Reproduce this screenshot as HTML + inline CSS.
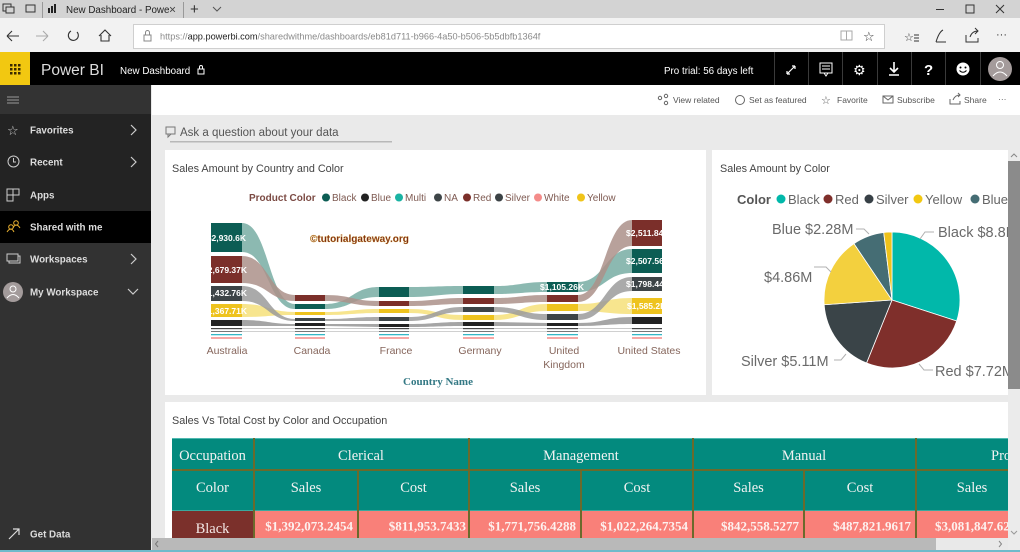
<!DOCTYPE html>
<html><head><meta charset="utf-8"><style>
html,body{margin:0;padding:0;width:1020px;height:552px;overflow:hidden;background:#eaeaea}
svg{display:block}
</style></head><body>
<svg width="1020" height="552" viewBox="0 0 1020 552" xmlns="http://www.w3.org/2000/svg" font-family="Liberation Sans, DejaVu Sans, sans-serif">
<defs>
<clipPath id="sk"><rect x="210" y="150" width="453" height="200"/></clipPath>
<clipPath id="pie"><rect x="712" y="150" width="296" height="245"/></clipPath>
<clipPath id="tb"><rect x="165" y="402" width="843" height="150"/></clipPath>
</defs>

<!-- Browser tab bar -->
<rect x="0" y="0" width="1020" height="18" fill="#d3d3d3"/>
<rect x="3" y="4" width="8" height="7" fill="none" stroke="#333" stroke-width="1"/>
<rect x="6" y="7" width="8" height="6" fill="#d3d3d3" stroke="#333" stroke-width="1"/>
<rect x="26" y="5" width="9" height="7" fill="none" stroke="#333" stroke-width="1"/>
<line x1="42.5" y1="2" x2="42.5" y2="18" stroke="#999"/>
<rect x="48" y="8" width="2" height="5" fill="#222"/><rect x="51" y="6" width="2" height="7" fill="#222"/><rect x="54" y="4" width="2" height="9" fill="#222"/>
<text x="66" y="13" font-size="9.8" fill="#222">New Dashboard - Powe</text>
<text x="169" y="13.5" font-size="12" fill="#444">×</text>
<line x1="183.5" y1="2" x2="183.5" y2="18" stroke="#999"/>
<text x="190" y="14" font-size="15" fill="#333">+</text>
<path d="M213 7 L217 11 L221 7" fill="none" stroke="#555"/>
<line x1="936" y1="9.5" x2="944" y2="9.5" stroke="#333"/>
<rect x="966" y="5" width="8" height="8" fill="none" stroke="#333"/>
<path d="M996 5 L1004 13 M1004 5 L996 13" stroke="#333"/>

<!-- Address bar -->
<rect x="0" y="18" width="1020" height="34" fill="#f2f2f2"/>
<path d="M7 36 H19 M7 36 L12 31 M7 36 L12 41" fill="none" stroke="#333" stroke-width="1.1"/>
<path d="M36 36 H48 M48 36 L43 31 M48 36 L43 41" fill="none" stroke="#aaa" stroke-width="1.1"/>
<path d="M77 32 A5 5 0 1 1 71 31" fill="none" stroke="#333" stroke-width="1.1"/>
<path d="M99 36 L105 30 L111 36 M101 35 V41 H109 V35" fill="none" stroke="#333" stroke-width="1.1"/>
<rect x="133.5" y="24.5" width="751" height="24" fill="#fff" stroke="#cfcfcf"/>
<rect x="144" y="35" width="7" height="6" fill="none" stroke="#888"/>
<path d="M145.5 35 V32.5 A2 2 0 0 1 149.5 32.5 V35" fill="none" stroke="#888"/>
<text x="160" y="39.5" font-size="9.2" fill="#8a8a8a">https://<tspan fill="#222">app.powerbi.com</tspan>/sharedwithme/dashboards/eb81d711-b966-4a50-b506-5b5dbfb1364f</text>
<rect x="841" y="31" width="11" height="9" fill="none" stroke="#aaa"/>
<line x1="846.5" y1="31" x2="846.5" y2="40" stroke="#aaa"/>
<text x="863" y="41" font-size="13" fill="#333" font-family="DejaVu Sans">☆</text>
<text x="904" y="41" font-size="11" fill="#333" font-family="DejaVu Sans">☆</text>
<path d="M914 35 H919 M914 38 H919 M914 41 H919" stroke="#333"/>
<path d="M936 42 Q939 32 943 30 M936 42 H946" fill="none" stroke="#333"/>
<path d="M966 35 V42 H978 V38 M970 37 Q972 31 978 31 M975 28 L978 31 L975 34" fill="none" stroke="#333"/>
<text x="996" y="38" font-size="11" fill="#333">···</text>

<!-- Power BI header -->
<rect x="0" y="52" width="1020" height="33" fill="#000"/>
<rect x="0" y="52" width="30" height="33" fill="#f2c811"/>
<g fill="#3a2a00">
<rect x="10" y="64" width="2.5" height="2.5"/><rect x="14" y="64" width="2.5" height="2.5"/><rect x="18" y="64" width="2.5" height="2.5"/>
<rect x="10" y="68" width="2.5" height="2.5"/><rect x="14" y="68" width="2.5" height="2.5"/><rect x="18" y="68" width="2.5" height="2.5"/>
<rect x="10" y="72" width="2.5" height="2.5"/><rect x="14" y="72" width="2.5" height="2.5"/><rect x="18" y="72" width="2.5" height="2.5"/>
</g>
<text x="41" y="75" font-size="15.5" fill="#dcdcdc">Power BI</text>
<text x="120" y="74" font-size="9.8" fill="#fff">New Dashboard</text>
<rect x="198" y="69" width="6" height="5" fill="none" stroke="#fff" stroke-width="1"/>
<path d="M199.5 69 V67 A1.5 1.5 0 0 1 202.5 67 V69" fill="none" stroke="#fff"/>
<text x="664" y="74" font-size="9.8" fill="#fff">Pro trial: 56 days left</text>
<g stroke="#3a3a3a">
<line x1="774.5" y1="52" x2="774.5" y2="85"/><line x1="808.5" y1="52" x2="808.5" y2="85"/><line x1="842.5" y1="52" x2="842.5" y2="85"/>
<line x1="877.5" y1="52" x2="877.5" y2="85"/><line x1="911.5" y1="52" x2="911.5" y2="85"/><line x1="945.5" y1="52" x2="945.5" y2="85"/><line x1="980.5" y1="52" x2="980.5" y2="85"/>
</g>
<path d="M787 74 L795 66 M787 74 V71 M787 74 H790 M795 66 H792 M795 66 V69" stroke="#fff" fill="none" stroke-width="1.2"/>
<rect x="820" y="63" width="12" height="10" fill="none" stroke="#fff"/>
<path d="M822 66 H830 M822 69 H830 M824 73 L826 76 L828 73" stroke="#fff" fill="none"/>
<text x="853" y="75" font-size="14" fill="#fff" font-family="DejaVu Sans">⚙</text>
<path d="M894 62 V72 M890 68 L894 72 L898 68 M889 75 H899" stroke="#fff" fill="none" stroke-width="1.6"/>
<text x="924" y="75" font-size="15" font-weight="bold" fill="#fff">?</text>
<circle cx="963" cy="69" r="6.5" fill="#fff"/>
<circle cx="960.5" cy="67.5" r="1" fill="#000"/><circle cx="965.5" cy="67.5" r="1" fill="#000"/>
<path d="M959.5 70.5 Q963 74 966.5 70.5" stroke="#000" fill="none"/>
<circle cx="1000" cy="69" r="12" fill="#a49b9b"/>
<circle cx="1000" cy="65" r="3.5" fill="none" stroke="#fff"/>
<path d="M993 76 Q1000 68 1007 76" fill="none" stroke="#fff"/>

<!-- Sidebar -->
<rect x="0" y="85" width="151" height="467" fill="#323232"/>
<rect x="0" y="85" width="151" height="29" fill="#333"/>
<rect x="0" y="114" width="151" height="97" fill="#232323"/>
<rect x="0" y="211" width="151" height="32" fill="#000"/>
<path d="M7 97 H19 M7 100 H19 M7 103 H19" stroke="#9a9a9a"/>
<text x="7" y="135" font-size="13" fill="#ccc" font-family="DejaVu Sans">☆</text>
<text x="30" y="133.5" font-size="9.8" font-weight="bold" fill="#ddd">Favorites</text>
<path d="M131 125 L136 130 L131 135" fill="none" stroke="#ccc" stroke-width="1.2"/>
<circle cx="13.5" cy="161.5" r="5.5" fill="none" stroke="#ccc"/>
<path d="M13.5 158 V162 H16" fill="none" stroke="#ccc"/>
<text x="30" y="165.5" font-size="9.8" font-weight="bold" fill="#ddd">Recent</text>
<path d="M131 157 L136 162 L131 167" fill="none" stroke="#ccc" stroke-width="1.2"/>
<path d="M7 189 H19 V195 H13 V201 H7 Z M7 195 H13 M13 189 V195" fill="none" stroke="#ccc"/>
<text x="30" y="198.5" font-size="9.8" font-weight="bold" fill="#ddd">Apps</text>
<circle cx="11" cy="227" r="2.3" fill="none" stroke="#e8b030"/>
<circle cx="16" cy="223" r="2.3" fill="none" stroke="#e8b030"/>
<path d="M7 232 Q11 226 14 232 M13 228 Q16 222 20 228" fill="none" stroke="#e8b030"/>
<text x="30" y="230.5" font-size="9.8" font-weight="bold" fill="#ddd">Shared with me</text>
<rect x="9" y="256" width="11" height="7" fill="#323232" stroke="#ccc"/>
<rect x="7" y="254" width="11" height="7" fill="#323232" stroke="#ccc"/>
<text x="30" y="262.5" font-size="9.8" font-weight="bold" fill="#ddd">Workspaces</text>
<path d="M131 254 L136 259 L131 264" fill="none" stroke="#ccc" stroke-width="1.2"/>
<circle cx="13" cy="292" r="10" fill="#a39b9b"/>
<circle cx="13" cy="289" r="3" fill="none" stroke="#fff"/>
<path d="M7 298 Q13 291 19 298" fill="none" stroke="#fff"/>
<text x="30" y="295.5" font-size="9.8" font-weight="bold" fill="#ddd">My Workspace</text>
<path d="M128 289 L133 294 L138 289" fill="none" stroke="#ccc" stroke-width="1.2"/>
<path d="M9 539 L19 529 M13 529 H19 V535" fill="none" stroke="#ddd" stroke-width="1.2"/>
<text x="30" y="537.5" font-size="9.8" font-weight="bold" fill="#ddd">Get Data</text>

<!-- Main toolbar -->
<rect x="152" y="85" width="868" height="30" fill="#fff"/>
<g font-size="8.5" fill="#555">
<circle cx="660" cy="98" r="1.7" fill="none" stroke="#666"/><circle cx="666" cy="96" r="1.7" fill="none" stroke="#666"/><circle cx="666" cy="103" r="1.7" fill="none" stroke="#666"/>
<text x="673" y="103">View related</text>
<circle cx="740" cy="100" r="4.5" fill="none" stroke="#666"/>
<text x="749" y="103">Set as featured</text>
<text x="821" y="104" font-size="11" font-family="DejaVu Sans">☆</text>
<text x="837" y="103">Favorite</text>
<rect x="883" y="96" width="10" height="7" fill="none" stroke="#666"/>
<path d="M883 96 L888 100 L893 96" fill="none" stroke="#666"/>
<text x="897" y="103">Subscribe</text>
<path d="M950 99 V104 H960 V101 M953 100 Q955 95 960 95 M958 93 L960 95 L958 97" fill="none" stroke="#666"/>
<text x="964" y="103">Share</text>
<text x="998" y="102">···</text>
</g>

<!-- Q&A -->
<rect x="166" y="127" width="9" height="7" fill="none" stroke="#777"/>
<path d="M168 134 V137 L171 134" fill="none" stroke="#777"/>
<text x="180" y="136" font-size="11.5" fill="#555">Ask a question about your data</text>
<rect x="170" y="141" width="222" height="1.5" fill="#b8b8b8"/>

<!-- Tile 1 -->
<rect x="165" y="150" width="541" height="245" fill="#fff"/>
<text x="172" y="172" font-size="10.8" fill="#444">Sales Amount by Country and Color</text>
<g font-size="10" fill="#7e5a52">
<text x="249" y="201" font-weight="bold" fill="#7b4a43">Product Color</text>
<circle cx="326" cy="197.5" r="4" fill="#0c5d54"/><text x="332" y="201">Black</text>
<circle cx="365" cy="197.5" r="4" fill="#222"/><text x="371" y="201">Blue</text>
<circle cx="399" cy="197.5" r="4" fill="#1ab3a3"/><text x="405" y="201">Multi</text>
<circle cx="438" cy="197.5" r="4" fill="#3e4548"/><text x="444" y="201">NA</text>
<circle cx="467" cy="197.5" r="4" fill="#7b2f2a"/><text x="473" y="201">Red</text>
<circle cx="499" cy="197.5" r="4" fill="#3b4245"/><text x="505" y="201">Silver</text>
<circle cx="538" cy="197.5" r="4" fill="#f48c8a"/><text x="544" y="201">White</text>
<circle cx="581" cy="197.5" r="4" fill="#f0c419"/><text x="587" y="201">Yellow</text>
</g>

<g clip-path="url(#sk)">
<rect x="211" y="328" width="451" height="1" fill="#c9c9c9"/>
<rect x="211" y="331" width="451" height="1" fill="#d0d0d0"/>
<g fill="#f6e07a" fill-opacity="0.85">
<path d="M242,304 C268.5,304 268.5,312 295,312 L295,315 C268.5,315 268.5,317 242,317 Z"/>
<path d="M325,312 C352,312 352,309 379,309 L379,313 C352,313 352,315 325,315 Z"/>
<path d="M409,309 C436,309 436,315 463,315 L463,320 C436,320 436,313 409,313 Z"/>
<path d="M494,315 C520.5,315 520.5,304 547,304 L547,311 C520.5,311 520.5,320 494,320 Z"/>
<path d="M578,304 C605,304 605,298 632,298 L632,314 C605,314 605,311 578,311 Z"/>
</g>
<g fill="#9b9b9b" fill-opacity="0.85">
<path d="M242,286 C268.5,286 268.5,319 295,319 L295,321 C268.5,321 268.5,301 242,301 Z"/>
<path d="M325,319 C352,319 352,317 379,317 L379,321 C352,321 352,321 325,321 Z"/>
<path d="M409,317 C436,317 436,307 463,307 L463,312 C436,312 436,321 409,321 Z"/>
<path d="M494,307 C520.5,307 520.5,314 547,314 L547,320 C520.5,320 520.5,312 494,312 Z"/>
<path d="M578,314 C605,314 605,277 632,277 L632,291 C605,291 605,320 578,320 Z"/>
</g>
<g fill="#8f8f8f" fill-opacity="0.8">
<path d="M242,320 C268.5,320 268.5,324 295,324 L295,326 C268.5,326 268.5,326 242,326 Z"/>
<path d="M325,324 L379,324 L379,327 L325,326 Z"/>
<path d="M409,324 C436,324 436,322 463,322 L463,326 C436,326 436,327 409,327 Z"/>
<path d="M494,322 L547,323 L547,326 L494,326 Z"/>
<path d="M578,323 C605,323 605,317 632,317 L632,324 C605,324 605,326 578,326 Z"/>
</g>
<g fill="#7fb1a9" fill-opacity="0.9">
<path d="M242,223 C268.5,223 268.5,304 295,304 L295,309 C268.5,309 268.5,252 242,252 Z"/>
<path d="M325,304 C352,304 352,287 379,287 L379,297 C352,297 352,309 325,309 Z"/>
<path d="M409,287 C436,287 436,286 463,286 L463,294 C436,294 436,297 409,297 Z"/>
<path d="M494,286 C520.5,286 520.5,282 547,282 L547,292 C520.5,292 520.5,294 494,294 Z"/>
<path d="M578,282 C605,282 605,249 632,249 L632,273 C605,273 605,292 578,292 Z"/>
</g>
<g fill="#ab908a" fill-opacity="0.85">
<path d="M242,256 C268.5,256 268.5,295 295,295 L295,301 C268.5,301 268.5,283 242,283 Z"/>
<path d="M325,295 C352,295 352,301 379,301 L379,306 C352,306 352,301 325,301 Z"/>
<path d="M409,301 C436,301 436,298 463,298 L463,304 C436,304 436,306 409,306 Z"/>
<path d="M494,298 C520.5,298 520.5,295 547,295 L547,302 C520.5,302 520.5,304 494,304 Z"/>
<path d="M578,295 C605,295 605,220 632,220 L632,246 C605,246 605,302 578,302 Z"/>
</g>
<g>
<rect x="211" y="223" width="31" height="29" fill="#0c5d54"/>
<rect x="211" y="256" width="31" height="27" fill="#7b2f2a"/>
<rect x="211" y="286" width="31" height="15" fill="#3d4447"/>
<rect x="211" y="304" width="31" height="13" fill="#eec31e"/>
<rect x="211" y="320" width="31" height="6" fill="#222"/>
<rect x="295" y="295" width="30" height="6" fill="#7b2f2a"/>
<rect x="295" y="304" width="30" height="5" fill="#0c5d54"/>
<rect x="295" y="312" width="30" height="3" fill="#eec31e"/>
<rect x="295" y="318" width="30" height="3" fill="#3d4447"/>
<rect x="295" y="323" width="30" height="3" fill="#222"/>
<rect x="379" y="287" width="30" height="10" fill="#0c5d54"/>
<rect x="379" y="301" width="30" height="5" fill="#7b2f2a"/>
<rect x="379" y="309" width="30" height="4" fill="#eec31e"/>
<rect x="379" y="317" width="30" height="4" fill="#3d4447"/>
<rect x="379" y="324" width="30" height="3" fill="#222"/>
<rect x="463" y="286" width="31" height="8" fill="#0c5d54"/>
<rect x="463" y="298" width="31" height="6" fill="#7b2f2a"/>
<rect x="463" y="307" width="31" height="5" fill="#3d4447"/>
<rect x="463" y="315" width="31" height="5" fill="#eec31e"/>
<rect x="463" y="322" width="31" height="4" fill="#222"/>
<rect x="547" y="282" width="31" height="10" fill="#0c5d54"/>
<rect x="547" y="295" width="31" height="7" fill="#7b2f2a"/>
<rect x="547" y="304" width="31" height="7" fill="#eec31e"/>
<rect x="547" y="314" width="31" height="6" fill="#3d4447"/>
<rect x="547" y="323" width="31" height="3" fill="#222"/>
<rect x="632" y="220" width="30" height="26" fill="#7b2f2a"/>
<rect x="632" y="249" width="30" height="24" fill="#0c5d54"/>
<rect x="632" y="277" width="30" height="14" fill="#3d4447"/>
<rect x="632" y="298" width="30" height="16" fill="#eec31e"/>
<rect x="632" y="317" width="30" height="7" fill="#222"/>
</g>
<g>
<rect x="211" y="328" width="31" height="1.2" fill="#444"/><rect x="295" y="328" width="30" height="1.2" fill="#444"/><rect x="379" y="328" width="30" height="1.2" fill="#444"/><rect x="463" y="328" width="31" height="1.2" fill="#444"/><rect x="547" y="328" width="31" height="1.2" fill="#444"/><rect x="632" y="328" width="30" height="1.2" fill="#444"/>
<rect x="211" y="331" width="31" height="1" fill="#777"/><rect x="295" y="331" width="30" height="1" fill="#777"/><rect x="379" y="331" width="30" height="1" fill="#777"/><rect x="463" y="331" width="31" height="1" fill="#777"/><rect x="547" y="331" width="31" height="1" fill="#777"/><rect x="632" y="331" width="30" height="1" fill="#777"/>
<rect x="211" y="334" width="31" height="1.3" fill="#35b8c6"/><rect x="295" y="334" width="30" height="1.3" fill="#35b8c6"/><rect x="379" y="334" width="30" height="1.3" fill="#35b8c6"/><rect x="463" y="334" width="31" height="1.3" fill="#35b8c6"/><rect x="547" y="334" width="31" height="1.3" fill="#35b8c6"/><rect x="632" y="334" width="30" height="1.3" fill="#35b8c6"/>
<rect x="211" y="337" width="31" height="2" fill="#f6a8a6"/><rect x="295" y="337" width="30" height="2" fill="#f6a8a6"/><rect x="379" y="337" width="30" height="2" fill="#f6a8a6"/><rect x="463" y="337" width="31" height="2" fill="#f6a8a6"/><rect x="547" y="337" width="31" height="2" fill="#f6a8a6"/><rect x="632" y="337" width="30" height="2" fill="#f6a8a6"/>
</g>
<g font-size="8.5" font-weight="bold" fill="#fff">
<text x="246" y="241" text-anchor="end">$2,930.6K</text>
<text x="247" y="273" text-anchor="end">$2,679.37K</text>
<text x="247" y="296" text-anchor="end">$1,432.76K</text>
<text x="247" y="314" text-anchor="end">$1,367.71K</text>
<text x="562" y="290" text-anchor="middle">$1,105.26K</text>
<text x="626" y="236">$2,511.84K</text>
<text x="626" y="264">$2,507.56K</text>
<text x="626" y="287">$1,798.44K</text>
<text x="627" y="309">$1,585.2K</text>
</g>
</g>
<text x="310" y="242" font-size="10" font-weight="bold" fill="#7d2a15" stroke="#d9a93a" stroke-width="0.25">©tutorialgateway.org</text>
<g font-size="10.5" fill="#86665c" text-anchor="middle">
<text x="227" y="354">Australia</text>
<text x="312" y="354">Canada</text>
<text x="396" y="354">France</text>
<text x="480" y="354">Germany</text>
<text x="564" y="354">United</text>
<text x="564" y="368">Kingdom</text>
<text x="649" y="354">United States</text>
</g>
<text x="438" y="385" font-size="11" font-weight="bold" fill="#337884" text-anchor="middle" font-family="Liberation Serif, serif">Country Name</text>

<!-- Tile 2 -->
<rect x="712" y="150" width="308" height="245" fill="#fff"/>
<text x="720" y="172" font-size="10.8" fill="#444">Sales Amount by Color</text>
<g clip-path="url(#pie)">
<g font-size="13" fill="#666">
<text x="737" y="204" font-weight="bold" fill="#555">Color</text>
<circle cx="781" cy="199" r="4.5" fill="#01b8aa"/><text x="788" y="204">Black</text>
<circle cx="828" cy="199" r="4.5" fill="#7f2f2b"/><text x="835" y="204">Red</text>
<circle cx="869" cy="199" r="4.5" fill="#374046"/><text x="876" y="204">Silver</text>
<circle cx="918" cy="199" r="4.5" fill="#f2c811"/><text x="925" y="204">Yellow</text>
<circle cx="975" cy="199" r="4.5" fill="#456d74"/><text x="982" y="204">Blue</text>
</g>
<g stroke="#fff" stroke-width="0.8">
<path d="M892,300 L892,232 A68,68 0 0 1 956.67,321.01 Z" fill="#01b8aa"/>
<path d="M892,300 L956.67,321.01 A68,68 0 0 1 866.53,363.05 Z" fill="#7f2f2b"/>
<path d="M892,300 L866.53,363.05 A68,68 0 0 1 824.16,304.74 Z" fill="#3a4448"/>
<path d="M892,300 L824.16,304.74 A68,68 0 0 1 853.97,243.63 Z" fill="#f3d03e"/>
<path d="M892,300 L853.97,243.63 A68,68 0 0 1 883.71,232.51 Z" fill="#456d74"/>
<path d="M892,300 L883.71,232.51 A68,68 0 0 1 892,232 Z" fill="#eec21b"/>
</g>
<g fill="none" stroke="#b0b0b0" stroke-width="1">
<path d="M856 229 H864 L869 234"/>
<path d="M920 239 L925 232 H934"/>
<path d="M814 267 H826 L831 272"/>
<path d="M834 360 H841 L846 354"/>
<path d="M933 370 H924 L919 364"/>
</g>
<g font-size="14.5" fill="#6a6a6a">
<text x="772" y="234">Blue $2.28M</text>
<text x="938" y="237">Black $8.8M</text>
<text x="764" y="282">$4.86M</text>
<text x="741" y="366">Silver $5.11M</text>
<text x="935" y="376">Red $7.72M</text>
</g>
</g>

<!-- Tile 3 -->
<rect x="165" y="402" width="855" height="150" fill="#fff"/>
<text x="172" y="424" font-size="10.8" fill="#444">Sales Vs Total Cost by Color and Occupation</text>
<g clip-path="url(#tb)">
<rect x="172" y="438" width="836" height="73" fill="#038a7e"/>
<rect x="172" y="438" width="836" height="1" fill="#4fb9b0"/>
<rect x="172" y="510" width="836" height="1" fill="#3aa99e"/>
<rect x="172" y="511" width="81" height="27" fill="#7b302b"/>
<rect x="255" y="511" width="753" height="27" fill="#f98079"/>
<g fill="#6b6a2c">
<rect x="172" y="469" width="836" height="2"/>
<rect x="253" y="438" width="2" height="100"/>
<rect x="468" y="438" width="2" height="100"/>
<rect x="692" y="438" width="2" height="100"/>
<rect x="915" y="438" width="2" height="100"/>
<rect x="357" y="471" width="2" height="67"/>
<rect x="580" y="471" width="2" height="67"/>
<rect x="803" y="471" width="2" height="67"/>
</g>
<g font-family="Liberation Serif, serif" font-size="14.5" fill="#f2f2f2" text-anchor="middle">
<text x="212.5" y="460">Occupation</text>
<text x="361" y="460">Clerical</text>
<text x="581" y="460">Management</text>
<text x="804" y="460">Manual</text>
<text x="991" y="460" text-anchor="start">Professional</text>
<text x="212.5" y="492">Color</text>
<text x="306" y="492">Sales</text>
<text x="413.5" y="492">Cost</text>
<text x="525" y="492">Sales</text>
<text x="637" y="492">Cost</text>
<text x="748.5" y="492">Sales</text>
<text x="860" y="492">Cost</text>
<text x="972" y="492">Sales</text>
<text x="212.5" y="533" fill="#f4e8e6">Black</text>
</g>
<g font-family="Liberation Serif, serif" font-size="13" font-weight="bold" fill="#fdf1ef" text-anchor="end">
<text x="353" y="530.5">$1,392,073.2454</text>
<text x="466" y="530.5">$811,953.7433</text>
<text x="576" y="530.5">$1,771,756.4288</text>
<text x="688" y="530.5">$1,022,264.7354</text>
<text x="799" y="530.5">$842,558.5277</text>
<text x="911" y="530.5">$487,821.9617</text>
<text x="935" y="530.5" text-anchor="start">$3,081,847.6239</text>
</g>
</g>

<!-- Horizontal scrollbar -->
<rect x="152" y="538" width="856" height="12" fill="#b9b9b9"/>
<rect x="936" y="538" width="72" height="12" fill="#e9e9e9"/>
<path d="M158 541 L155.5 544 L158 547" fill="none" stroke="#777"/>
<path d="M999 541 L1001.5 544 L999 547" fill="none" stroke="#888"/>
<rect x="0" y="550" width="1020" height="2" fill="#6fbacb"/>

<!-- Vertical scrollbar -->
<rect x="1008" y="150" width="12" height="400" fill="#ebebeb"/>
<rect x="1008" y="161" width="12" height="228" fill="#8b8b8b"/>
<path d="M1011 157 L1014 154 L1017 157" fill="none" stroke="#888"/>
<path d="M1011 531 L1014 534 L1017 531" fill="none" stroke="#999"/>
</svg>
</body></html>
